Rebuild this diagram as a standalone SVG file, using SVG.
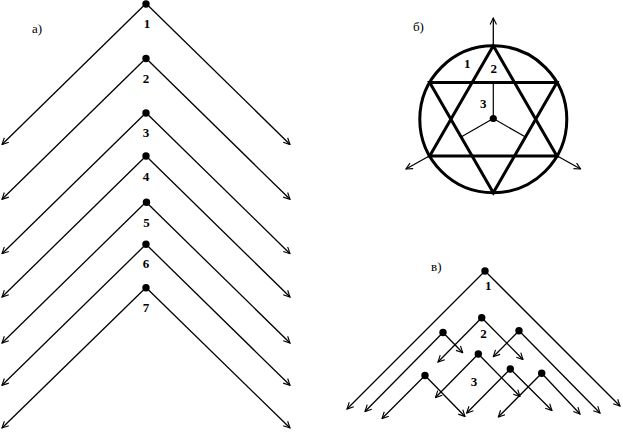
<svg xmlns="http://www.w3.org/2000/svg" width="623" height="432" viewBox="0 0 623 432">
<style>
.ln{stroke:#000;stroke-width:1.3;fill:none;marker-end:url(#arr)}
.thin{stroke:#000;stroke-width:1.2;fill:none}
.thick{stroke:#000;stroke-width:3;fill:none}
.dot{fill:#000}
.num{font-family:"Liberation Serif",serif;font-weight:bold;font-size:13px;text-anchor:middle;fill:#000}
.cap{font-family:"Liberation Serif",serif;font-size:13px;fill:#000}
</style>
<defs>
<marker id="arr" viewBox="0 0 10 10" refX="9" refY="5" markerWidth="8" markerHeight="8" markerUnits="userSpaceOnUse" orient="auto">
<path d="M1,1 L9,5 L1,9" fill="none" stroke="#000" stroke-width="1.4"/>
</marker>
</defs>
<rect width="623" height="432" fill="#fff"/>

<text class="cap" x="32" y="33">а)</text>
<text class="cap" x="413" y="31">б)</text>
<text class="cap" x="431" y="271">в)</text>

<!-- connectors -->
<g id="connectors">
<!-- part a -->
<line class="ln" x1="146" y1="3.5" x2="2" y2="144.5"/><line class="ln" x1="146" y1="3.5" x2="290" y2="144.5"/>
<line class="ln" x1="146" y1="58.3" x2="2" y2="199.3"/><line class="ln" x1="146" y1="58.3" x2="290" y2="199.3"/>
<line class="ln" x1="146" y1="112.7" x2="2" y2="253.7"/><line class="ln" x1="146" y1="112.7" x2="290" y2="253.7"/>
<line class="ln" x1="146" y1="156" x2="2" y2="297"/><line class="ln" x1="146" y1="156" x2="290" y2="297"/>
<line class="ln" x1="146" y1="202" x2="2" y2="343"/><line class="ln" x1="146" y1="202" x2="290" y2="343"/>
<line class="ln" x1="146" y1="244.3" x2="2" y2="385.3"/><line class="ln" x1="146" y1="244.3" x2="290" y2="385.3"/>
<line class="ln" x1="146" y1="287.5" x2="2" y2="428"/><line class="ln" x1="146" y1="287.5" x2="290" y2="428"/>
<!-- part b arrows -->
<line class="ln" x1="493.3" y1="46" x2="493.3" y2="18"/>
<line class="ln" x1="429.7" y1="155.7" x2="406" y2="169"/>
<line class="ln" x1="556.9" y1="155.7" x2="580.6" y2="169"/>
<!-- part c -->
<line class="ln" x1="485" y1="271" x2="347" y2="409"/><line class="ln" x1="485" y1="271" x2="620" y2="406"/>
<line class="ln" x1="481.7" y1="317.7" x2="438" y2="362"/><line class="ln" x1="481.7" y1="317.7" x2="523" y2="359.5"/>
<line class="ln" x1="443" y1="332.5" x2="365" y2="411.5"/><line class="ln" x1="443" y1="332.5" x2="462.7" y2="352.7"/>
<line class="ln" x1="519" y1="330.7" x2="493.3" y2="356.7"/><line class="ln" x1="519" y1="330.7" x2="600" y2="413"/>
<line class="ln" x1="478.3" y1="354" x2="435.5" y2="397.5"/><line class="ln" x1="478.3" y1="354" x2="520" y2="396.5"/>
<line class="ln" x1="425" y1="375.5" x2="382" y2="418.5"/><line class="ln" x1="425" y1="375.5" x2="465" y2="416.5"/>
<line class="ln" x1="510.3" y1="369" x2="466.7" y2="413"/><line class="ln" x1="510.3" y1="369" x2="552" y2="410.5"/>
<line class="ln" x1="541.7" y1="373.3" x2="498.3" y2="417"/><line class="ln" x1="541.7" y1="373.3" x2="580" y2="414"/>
</g>

<!-- part a nodes -->
<g id="a1"><circle class="dot" cx="146" cy="4" r="3.7"/><text class="num" x="147" y="28">1</text></g>
<g id="a2"><circle class="dot" cx="146" cy="58.5" r="3.7"/><text class="num" x="146" y="83">2</text></g>
<g id="a3"><circle class="dot" cx="146" cy="113" r="3.7"/><text class="num" x="146" y="137">3</text></g>
<g id="a4"><circle class="dot" cx="146" cy="156" r="3.7"/><text class="num" x="146" y="180.5">4</text></g>
<g id="a5"><circle class="dot" cx="146.5" cy="202.3" r="3.7"/><text class="num" x="146.5" y="226.5">5</text></g>
<g id="a6"><circle class="dot" cx="146" cy="244.3" r="3.7"/><text class="num" x="146" y="268">6</text></g>
<g id="a7"><circle class="dot" cx="146" cy="287.7" r="3.7"/><text class="num" x="146" y="311.5">7</text></g>

<!-- part b -->
<g id="b-figure">
<circle class="thick" cx="493.3" cy="119.3" r="73.5"/>
<polygon class="thick" points="493.3,45.8 429.7,156 556.9,156"/>
<polygon class="thick" points="429.7,82.6 556.9,82.6 493.3,192.8"/>
<line class="thin" x1="493.3" y1="118.5" x2="493.3" y2="82.6"/>
<line class="thin" x1="493.3" y1="118.5" x2="461.5" y2="136.8"/>
<line class="thin" x1="493.3" y1="118.5" x2="525.1" y2="136.8"/>
<circle class="dot" cx="493.3" cy="118.5" r="3.6"/>
<text class="num" x="467.3" y="68">1</text>
<text class="num" x="493.8" y="73">2</text>
<text class="num" x="483.3" y="107.5">3</text>
</g>

<!-- part c nodes -->
<g id="c1"><circle class="dot" cx="485" cy="271" r="3.7"/><text class="num" x="488.3" y="290">1</text></g>
<g id="c2"><circle class="dot" cx="481.7" cy="317.7" r="3.7"/><text class="num" x="483.5" y="338">2</text></g>
<g id="c3"><circle class="dot" cx="443" cy="332.5" r="3.7"/></g>
<g id="c4"><circle class="dot" cx="519" cy="330.7" r="3.7"/></g>
<g id="c5"><circle class="dot" cx="478.3" cy="354" r="3.7"/><text class="num" x="474" y="386">3</text></g>
<g id="c6"><circle class="dot" cx="425" cy="375.5" r="3.7"/></g>
<g id="c7"><circle class="dot" cx="510.3" cy="369" r="3.7"/></g>
<g id="c8"><circle class="dot" cx="541.7" cy="373.3" r="3.7"/></g>
</svg>
